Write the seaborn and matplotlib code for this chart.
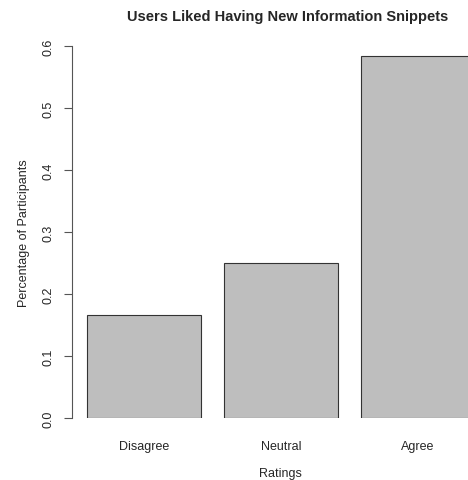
import matplotlib
matplotlib.use("Agg")
import matplotlib.pyplot as plt
import seaborn as sns
import pandas as pd

categories = ["Disagree", "Neutral", "Agree"]
values = [0.1667, 0.25, 0.5833]
yticks = [0.0, 0.1, 0.2, 0.3, 0.4, 0.5, 0.6]
ytick_labels = ["0.0", "0.1", "0.2", "0.3", "0.4", "0.5", "0.6"]

sns.set_style("white")
plt.rcParams['font.family'] = ['Liberation Sans', 'DejaVu Sans']

df = pd.DataFrame({"Ratings": categories, "Percentage": values})

W, H = 468, 481
fig = plt.figure(figsize=(W / 100, H / 100), dpi=100)
left_px, right_px, top_px, bottom_px = 71.5, 490, 47, 419
ax = fig.add_axes([left_px / W, (H - bottom_px) / H, (right_px - left_px) / W, (bottom_px - top_px) / H])

sns.barplot(data=df, x="Ratings", y="Percentage", order=categories, color="#bebebe",
            saturation=1, width=1 / 1.2, edgecolor="#333333", linewidth=0.8, ax=ax)

ax.set_xlim(-0.53, 2.53)
ax.set_ylim(0, 0.6)
ax.set_yticks(yticks)
ax.set_yticklabels(ytick_labels, fontsize=9)
for spine in ["top", "right", "bottom"]:
    ax.spines[spine].set_visible(False)
ax.spines["left"].set_bounds(0, 0.6)
ax.spines["left"].set_color("#555555")
ax.spines["left"].set_linewidth(0.8)
ax.tick_params(axis="y", length=6, width=0.8, color="#555555", pad=6, left=True, labelrotation=90)
for lab in ax.get_yticklabels():
    lab.set_va("center")
ax.tick_params(axis="x", length=0, pad=16, labelsize=9)
ax.set_xlabel("Ratings", fontsize=9, labelpad=11)
ax.set_ylabel("Percentage of Participants", fontsize=9, labelpad=9)
fig.text(288 / W, 1 - 17 / H, "Users Liked Having New Information Snippets", fontsize=10.5,
         fontweight="bold", ha="center", va="center")

fig.savefig("out.png", dpi=100)
